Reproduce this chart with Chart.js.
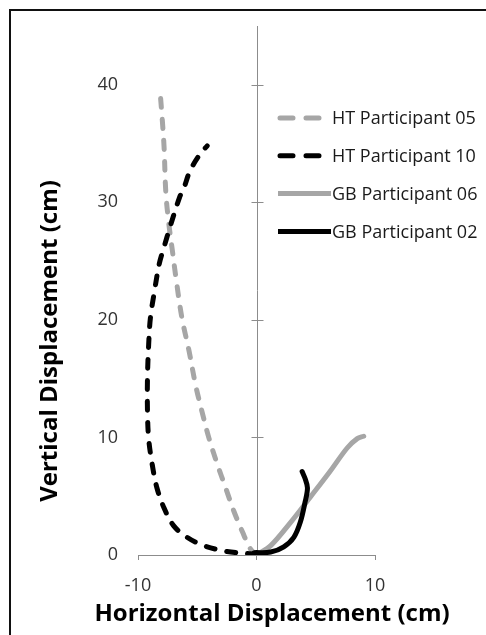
<!DOCTYPE html>
<html>
<head>
<meta charset="utf-8">
<script src="https://cdn.jsdelivr.net/npm/chart.js@4.4.1/dist/chart.umd.min.js"></script>
<style>
  body { margin: 0; background: #fff; }
  #frame {
    position: absolute; left: 9px; top: 9px;
    width: 600px; height: 700px;
    border-top: 2px solid #111; border-left: 2px solid #111;
  }
  #graph { position: absolute; left: 0; top: 0; }
</style>
</head>
<body>
<div id="frame"></div>
<canvas id="graph" width="486" height="635"></canvas>
<script>
// trajectories in cm, each starting from the origin
const ht05X = [0, -0.5, -1.2, -1.9, -2.6, -3.3, -4.0, -4.6, -5.15, -5.7, -6.3, -6.8, -7.1, -7.4, -7.65, -7.8, -7.95, -8.15];
const ht05Y = [0, 0.5, 2.0, 3.7, 5.7, 7.7, 9.9, 12.2, 14.5, 17.4, 20.2, 23.6, 25.9, 28.2, 30.8, 34.7, 37.0, 39.6];

const ht10X = [0, -0.5, -2.5, -4.45, -5.85, -7.0, -7.8, -8.4, -8.8, -9.1, -9.2, -9.2, -9.1, -8.95, -8.6, -8.2, -7.8, -7.3, -6.5, -6.1, -5.6, -4.7, -4.16];
const ht10Y = [0, 0.1, 0.3, 0.8, 1.5, 2.5, 4.0, 5.7, 7.7, 9.9, 12.2, 15.1, 17.9, 20.2, 22.5, 24.8, 26.2, 27.9, 30.4, 31.3, 32.7, 34.2, 34.8];

const gb06X = [0, 1.2, 2.9, 4.6, 6.2, 7.65, 8.5, 9.05];
const gb06Y = [0, 0.8, 2.8, 5.0, 7.1, 9.1, 9.9, 10.1];

const gb02X = [-0.2, 1.2, 2.3, 3.15, 3.7, 4.1, 4.3, 4.1, 3.85];
const gb02Y = [0.2, 0.25, 0.7, 1.5, 2.8, 4.5, 5.7, 6.5, 7.1];

const seriesNames = ['HT Participant 05', 'HT Participant 10', 'GB Participant 06', 'GB Participant 02'];
const xTicks = [-10, 0, 10];
const yTicks = [0, 10, 20, 30, 40];
const xTitle = 'Horizontal Displacement (cm)';
const yTitle = 'Vertical Displacement (cm)';

const GREY = '#a6a6a6';
const AXIS = '#8c8c8c';
const FONT = "'Open Sans', sans-serif";

function points(xs, ys) {
  return xs.map((x, i) => ({ x: x, y: ys[i] }));
}

function line(label, xs, ys, color, dashed, order) {
  return {
    label: label,
    data: points(xs, ys),
    showLine: true,
    borderColor: color,
    backgroundColor: color,
    borderWidth: 5,
    borderDash: dashed ? [9, 12] : [],
    borderCapStyle: 'round',
    borderJoinStyle: 'round',
    pointRadius: 0,
    tension: 0.35,
    fill: false,
    order: order
  };
}

// vertical axis crossing at x = 0, with cross tick marks
const centerAxis = {
  id: 'centerAxis',
  beforeDatasetsDraw(chart) {
    const { ctx, scales: { x, y } } = chart;
    const px = Math.round(x.getPixelForValue(0)) + 0.5;
    ctx.save();
    ctx.strokeStyle = AXIS;
    ctx.lineWidth = 1;
    ctx.beginPath();
    ctx.moveTo(px, y.top);
    ctx.lineTo(px, y.bottom);
    yTicks.forEach(v => {
      if (v === 0) return;
      const py = Math.round(y.getPixelForValue(v)) + 0.5;
      ctx.moveTo(px - 6, py);
      ctx.lineTo(px + 6, py);
    });
    ctx.stroke();
    ctx.restore();
  }
};

// axis titles, drawn by hand so they are not squeezed to the axis length
const axisTitles = {
  id: 'axisTitles',
  afterDraw(chart) {
    const ctx = chart.ctx;
    ctx.save();
    ctx.fillStyle = '#000000';
    ctx.font = 'bold 24px ' + FONT;
    ctx.textAlign = 'center';
    ctx.textBaseline = 'middle';
    ctx.fillText(xTitle, 272, 614);
    ctx.translate(50, 341);
    ctx.rotate(-Math.PI / 2);
    ctx.fillText(yTitle, 0, 0);
    ctx.restore();
  }
};

// legend sitting inside the plot, to the right of the centre axis
const insideLegend = {
  id: 'insideLegend',
  afterDraw(chart) {
    const ctx = chart.ctx;
    const x0 = 278, textX = 332, y0 = 118, step = 37.8;
    ctx.save();
    chart.data.datasets.forEach((ds, i) => {
      const yy = y0 + i * step;
      const dashed = ds.borderDash.length > 0;
      ctx.strokeStyle = ds.borderColor;
      ctx.lineWidth = 5;
      ctx.lineCap = dashed ? 'round' : 'butt';
      ctx.setLineDash(dashed ? [13, 13] : []);
      ctx.beginPath();
      ctx.moveTo(dashed ? x0 + 2 : x0, yy);
      ctx.lineTo(dashed ? 322 : 331, yy);
      ctx.stroke();
      ctx.setLineDash([]);
      ctx.fillStyle = '#1a1a1a';
      ctx.font = '18px ' + FONT;
      ctx.textBaseline = 'middle';
      ctx.fillText(ds.label, textX, yy + 1);
    });
    ctx.restore();
  }
};

const ctx = document.getElementById('graph').getContext('2d');

const myChart = new Chart(ctx, {
  type: 'scatter',
  data: {
    datasets: [
      line(seriesNames[0], ht05X, ht05Y, GREY, true, 4),
      line(seriesNames[1], ht10X, ht10Y, '#000000', true, 3),
      line(seriesNames[2], gb06X, gb06Y, GREY, false, 2),
      line(seriesNames[3], gb02X, gb02Y, '#000000', false, 1)
    ]
  },
  options: {
    responsive: false,
    animation: false,
    layout: {
      padding: { left: 10, right: 111, top: 26, bottom: 0 }
    },
    plugins: {
      legend: { display: false },
      tooltip: { enabled: false }
    },
    scales: {
      x: {
        type: 'linear',
        min: -10,
        max: 10,
        afterBuildTicks: scale => { scale.ticks = xTicks.map(v => ({ value: v })); },
        afterFit: scale => { scale.height = 80; },
        ticks: {
          padding: 15,
          color: '#333333',
          font: { family: FONT, size: 18 }
        },
        grid: {
          drawOnChartArea: false,
          drawTicks: true,
          tickLength: 5,
          color: AXIS
        },
        border: { color: AXIS, width: 1 }
      },
      y: {
        type: 'linear',
        min: 0,
        max: 45,
        afterBuildTicks: scale => { scale.ticks = yTicks.map(v => ({ value: v })); },
        afterFit: scale => {
          scale.width = 128;
          scale.paddingTop = 0;
          scale.paddingBottom = 0;
        },
        ticks: {
          padding: 20,
          color: '#333333',
          font: { family: FONT, size: 18 }
        },
        grid: { display: false, drawTicks: false },
        border: { display: false }
      }
    }
  },
  plugins: [centerAxis, axisTitles, insideLegend]
});
</script>
</body>
</html>
